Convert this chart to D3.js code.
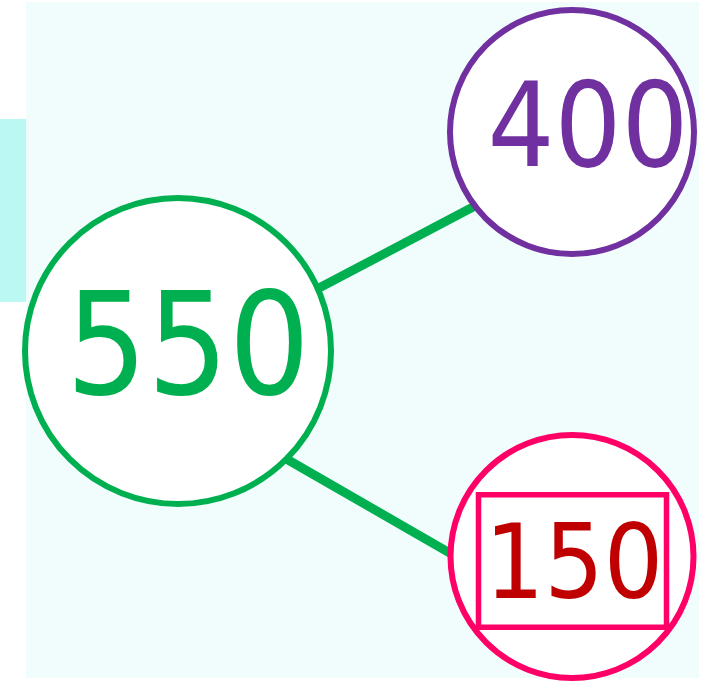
<!DOCTYPE html>
<html>
<head>
<meta charset="utf-8">
<script src="https://cdn.jsdelivr.net/npm/d3@7"></script>
<style>
  html, body { margin: 0; padding: 0; background: #fff; }
  svg { display: block; }
  .num { font-family: 'DejaVu Sans Condensed', 'DejaVu Sans', sans-serif; font-stretch: condensed; }
</style>
</head>
<body>
<svg id="chart"></svg>
<script>
// number bond: whole = part + part, the missing part is boxed
const nodeNames = ['whole', 'partA', 'partB']
const nodeValues = [550, 400, 150]
const nodeColumns = ['whole', 'part', 'part']
const answerNode = 'partB'
const linkPairs = [['whole', 'partA'], ['whole', 'partB']]

const w = 711
const h = 681

const colors = {
  whole: '#00b050',
  partA: '#7030a0',
  partB: '#ff0066',
}
const textColors = {
  whole: '#00b050',
  partA: '#7030a0',
  partB: '#c00000',
}

const radius = { whole: 153, partA: 122, partB: 121.5 }
const fontSize = { whole: 142, partA: 117, partB: 104 }
const textShift = { whole: 10, partA: 16, partB: 2 }
const baseShift = { whole: 43, partA: 34, partB: 41 }
// where each link leaves / enters the circles (degrees)
const linkAngles = [
  [-23.7, 141.6],
  [46.2, 178],
]

const svg = d3.select('#chart').attr('width', w).attr('height', h)

const x = d3.scalePoint().domain(['whole', 'part']).range([178, 572])
const yParts = d3.scalePoint().domain(['partA', 'partB']).range([132, 556.5])

const nodes = nodeNames.map((name, i) => ({
  name,
  value: nodeValues[i],
  cx: x(nodeColumns[i]),
  cy: nodeColumns[i] === 'whole' ? 351 : yParts(name),
}))
const byName = new Map(nodes.map((d) => [d.name, d]))

svg
  .append('rect')
  .attr('x', 0)
  .attr('y', 119)
  .attr('width', 26)
  .attr('height', 183)
  .attr('fill', '#bbf8f3')

svg
  .append('rect')
  .attr('x', 26)
  .attr('y', 2)
  .attr('width', 673)
  .attr('height', 676)
  .attr('fill', '#f1fcfd')

function edgePoint(node, deg, extra) {
  const a = (deg * Math.PI) / 180
  const r = radius[node.name] - extra
  return [node.cx + r * Math.cos(a), node.cy + r * Math.sin(a)]
}

svg
  .append('g')
  .selectAll('line')
  .data(linkPairs)
  .join('line')
  .each(function (d, i) {
    const s = edgePoint(byName.get(d[0]), linkAngles[i][0], 12)
    const t = edgePoint(byName.get(d[1]), linkAngles[i][1], 12)
    d3.select(this)
      .attr('x1', s[0])
      .attr('y1', s[1])
      .attr('x2', t[0])
      .attr('y2', t[1])
  })
  .attr('stroke', colors.whole)
  .attr('stroke-width', 9)

const g = svg
  .append('g')
  .selectAll('g')
  .data(nodes)
  .join('g')
  .attr('transform', (d) => `translate(${d.cx},${d.cy})`)

g.append('circle')
  .attr('r', (d) => radius[d.name])
  .attr('fill', '#fff')
  .attr('stroke', (d) => colors[d.name])
  .attr('stroke-width', 6)

g.filter((d) => d.name === answerNode)
  .append('rect')
  .attr('x', -93.5)
  .attr('y', -61.75)
  .attr('width', 188)
  .attr('height', 132.5)
  .attr('fill', '#fff')
  .attr('stroke', colors.partB)
  .attr('stroke-width', 5.5)

g.append('text')
  .attr('class', 'num')
  .attr('x', (d) => textShift[d.name])
  .attr('y', (d) => baseShift[d.name])
  .attr('text-anchor', 'middle')
  .attr('font-size', (d) => fontSize[d.name])
  .attr('fill', (d) => textColors[d.name])
  .text((d) => d.value)
</script>
</body>
</html>
